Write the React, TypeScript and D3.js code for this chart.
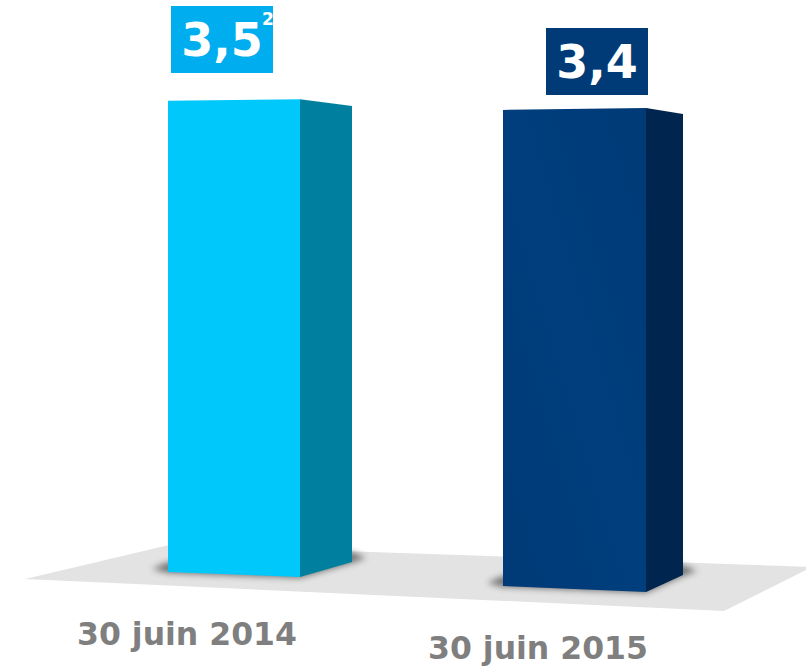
import * as React from 'react';
import * as d3 from 'd3';

const categories = ['30 juin 2014', '30 juin 2015'];
const values = [3.5, 3.4];
const superscripts = ['2', ''];

const frontColours = ['#00C8FA', '#003B78'];
const sideColours = ['#00809E', '#00264F'];
const boxColours = ['#00AEEF', '#003B78'];

// perspective layout for each bar (front left / right edge, side edge)
const layout = [
  { xL: 168, xR: 300, xS: 352, bL: 572, bR: 577, bS: 562, kL: 0.994, kR: 1.008, kS: 0.962, boxX: 171, boxY: 6, labelX: 187, labelY: 645 },
  { xL: 503, xR: 646, xS: 683, bL: 586, bR: 592, bS: 575, kL: 1.034, kR: 1.051, kS: 1.001, boxX: 546, boxY: 28, labelX: 538, labelY: 659 },
];

const fr = d3.formatLocale({ decimal: ',', thousands: ' ', grouping: [3], currency: ['', ' €'] });
const fmt = fr.format('.1f');

export default function App() {
  const width = 806;
  const height = 666;
  const y = d3.scaleLinear().domain([0, 3.5]).range([0, 474]);
  const line = d3.line();
  const font = '"DejaVu Sans", Verdana, sans-serif';

  const floor: [number, number][] = [[25, 579], [169, 545], [812, 567], [724, 611]];

  return (
    <svg width={width} height={height} style={{ position: 'absolute', left: 0, top: 0 }}>
      <defs>
        <filter id="blur" x="-20%" y="-100%" width="140%" height="300%">
          <feGaussianBlur stdDeviation="3" />
        </filter>
        <linearGradient id="g2" x1="0" y1="1" x2="1" y2="0">
          <stop offset="0" stopColor="#003A77" />
          <stop offset="0.5" stopColor="#003E7D" />
          <stop offset="1" stopColor="#003A77" />
        </linearGradient>
        <clipPath id="box0">
          <rect x={layout[0].boxX} y={layout[0].boxY} width={102} height={67} />
        </clipPath>
      </defs>
      <path d={line(floor) + 'Z'} fill="#E3E3E3" />
      {values.map((v, i) => {
        const L = layout[i];
        const h = y(v);
        const shadow: [number, number][] = [
          [L.xL - 16, L.bL - 3], [L.xL, L.bL + 1], [L.xR, L.bR + 1], [L.xS, L.bS + 1],
          [L.xS + 14, L.bS - 4], [L.xS, L.bS - 10], [L.xL, L.bL - 10],
        ];
        const front: [number, number][] = [
          [L.xL, L.bL - h * L.kL], [L.xR, L.bR - h * L.kR], [L.xR, L.bR], [L.xL, L.bL],
        ];
        const side: [number, number][] = [
          [L.xR, L.bR - h * L.kR], [L.xS, L.bS - h * L.kS], [L.xS, L.bS], [L.xR, L.bR],
        ];
        return (
          <g key={categories[i]}>
            <path d={line(shadow) + 'Z'} fill="#3a3a3a" opacity={0.65} filter="url(#blur)" />
            <path d={line(front) + 'Z'} fill={i === 1 ? 'url(#g2)' : frontColours[i]} />
            <path d={line(side) + 'Z'} fill={sideColours[i]} />
            <rect x={L.boxX} y={L.boxY} width={102} height={67} fill={boxColours[i]} />
            <text x={L.boxX + 51} y={L.boxY + 50} textAnchor="middle" fill="#fff"
              fontFamily={font} fontWeight="bold" fontSize={46}>{fmt(v)}</text>
            {superscripts[i] && (
              <text x={L.boxX + 91} y={L.boxY + 19} fill="#fff" fontFamily={font}
                fontWeight="bold" fontSize={17}>{superscripts[i]}</text>
            )}
            <text x={L.labelX} y={L.labelY} textAnchor="middle" fill="#7F7F7F"
              fontFamily={font} fontWeight="bold" fontSize={31.5}>{categories[i]}</text>
          </g>
        );
      })}
    </svg>
  );
}
